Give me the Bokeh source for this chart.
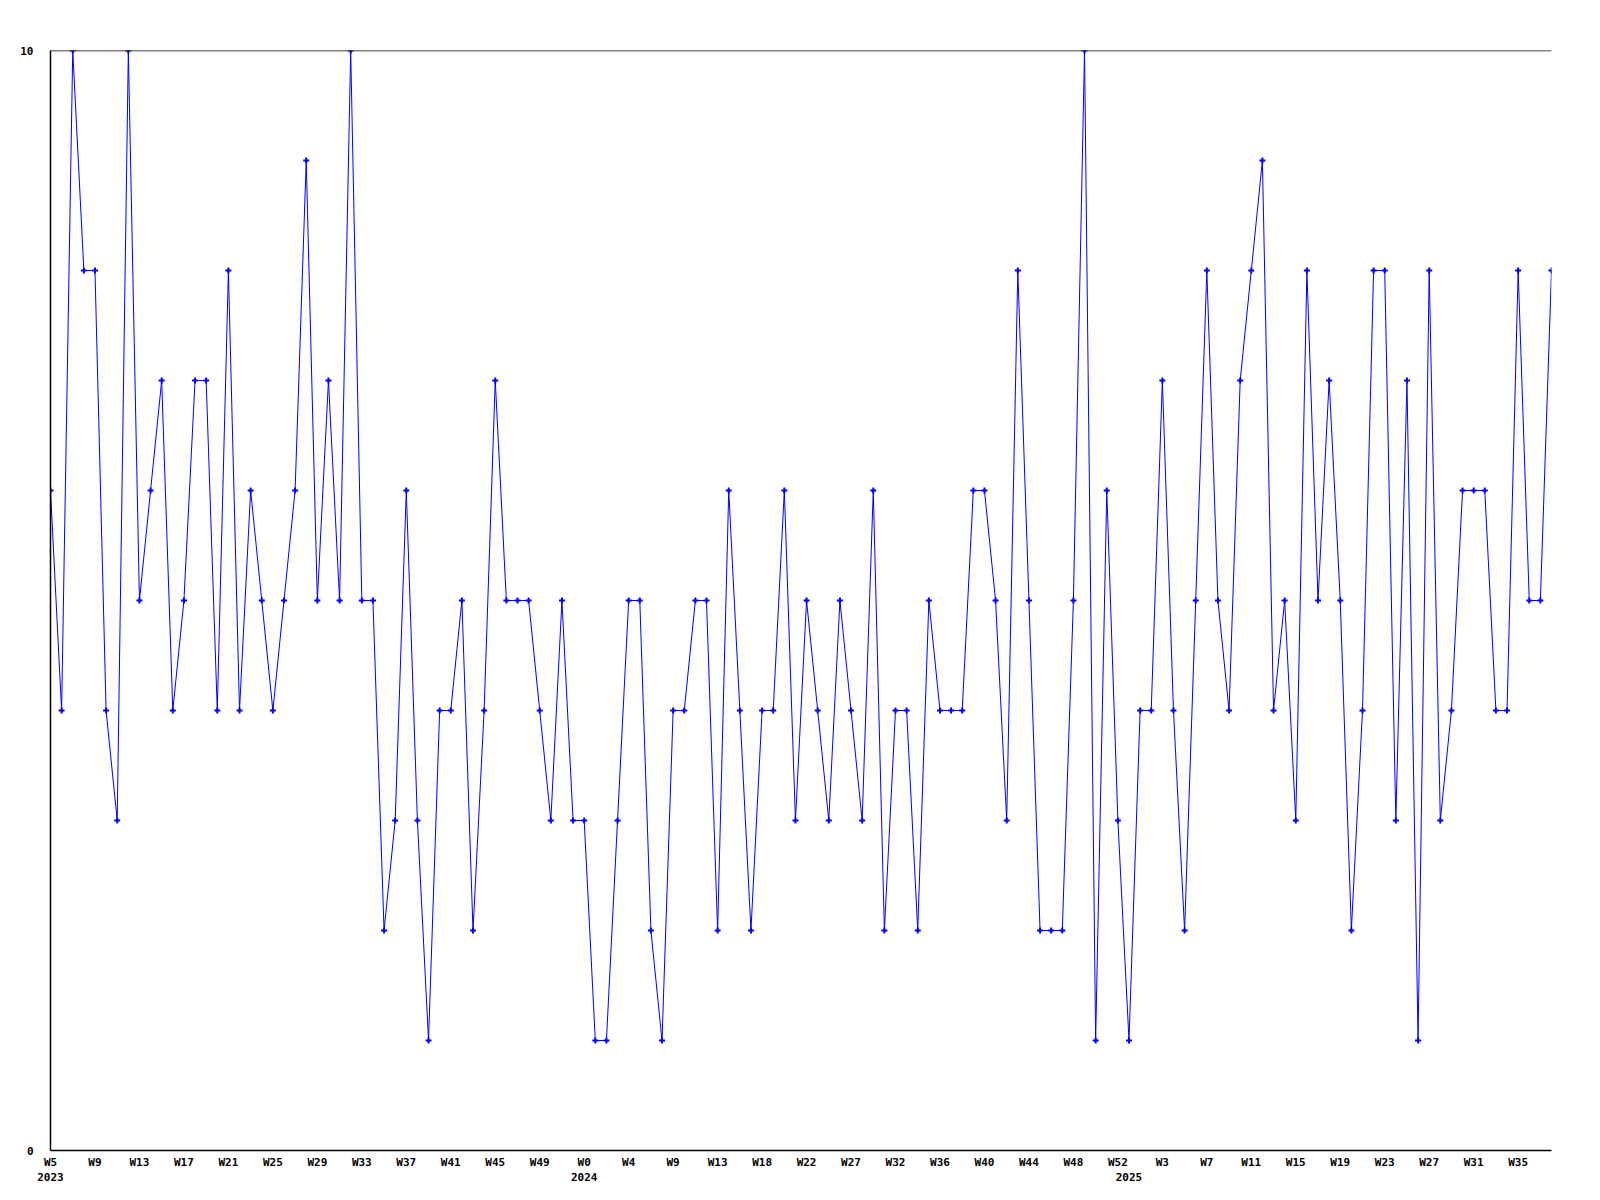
from bokeh.plotting import figure
from bokeh.models import Range1d, LinearAxis, FixedTicker, Span, ColumnDataSource
from bokeh.embed import file_html
from bokeh.resources import INLINE

# ---- data ----
values = [
    6, 4, 10, 8, 8, 4, 3, 10, 5, 6, 7, 4, 5, 7, 7, 4, 8, 4, 6, 5,
    4, 5, 6, 9, 5, 7, 5, 10, 5, 5, 2, 3, 6, 3, 1, 4, 4, 5, 2, 4,
    7, 5, 5, 5, 4, 3, 5, 3, 3, 1, 1, 3, 5, 5, 2, 1, 4, 4, 5, 5,
    2, 6, 4, 2, 4, 4, 6, 3, 5, 4, 3, 5, 4, 3, 6, 2, 4, 4, 2, 5,
    4, 4, 4, 6, 6, 5, 3, 8, 5, 2, 2, 2, 5, 10, 1, 6, 3, 1, 4, 4,
    7, 4, 2, 5, 8, 5, 4, 7, 8, 9, 4, 5, 3, 8, 5, 7, 5, 2, 4, 8,
    8, 3, 7, 1, 8, 3, 4, 6, 6, 6, 4, 4, 8, 5, 5, 8,
]
week_labels = [
    "W5", "W9", "W13", "W17", "W21", "W25", "W29", "W33", "W37", "W41",
    "W45", "W49", "W0", "W4", "W9", "W13", "W18", "W22", "W27", "W32",
    "W36", "W40", "W44", "W48", "W52", "W3", "W7", "W11", "W15", "W19",
    "W23", "W27", "W31", "W35",
]
week_label_step = 4
year_labels = ["2023", "2024", "2025"]
year_index = [0, 48, 97]
y_ticks = [0, 10]

x = list(range(len(values)))
week_ticks = [i * week_label_step for i in range(len(week_labels))]

FONT = "DejaVu Sans Mono"
FSIZE = "11px"

p = figure(
    frame_width=1501, frame_height=1100,
    x_range=Range1d(0, len(values) - 1), y_range=Range1d(0, 10),
    output_backend="svg", toolbar_location=None,
    x_axis_type=None, y_axis_type=None,
    min_border_left=50, min_border_top=50, min_border_right=33, min_border_bottom=5,
)
p.outline_line_color = None
p.background_fill_color = "white"
p.border_fill_color = "white"

src = ColumnDataSource(dict(x=x, y=values))
p.line("x", "y", source=src, line_color="#0000ff", line_width=1)
p.scatter("x", "y", source=src, marker="cross", size=6, line_width=2, line_color="#0000ff")


def style_axis(ax, standoff, line=True):
    ax.major_tick_line_color = None
    ax.minor_tick_line_color = None
    ax.major_tick_in = 0
    ax.major_tick_out = 0
    ax.major_label_standoff = standoff
    ax.axis_line_color = "black" if line else None
    ax.axis_line_width = 1.5
    ax.major_label_text_font = FONT
    ax.major_label_text_font_style = "bold"
    ax.major_label_text_font_size = FSIZE
    ax.major_label_text_color = "black"


# y axis
ya = LinearAxis(ticker=FixedTicker(ticks=y_ticks))
style_axis(ya, 17)
p.add_layout(ya, "left")

# week axis
xa = LinearAxis(ticker=FixedTicker(ticks=week_ticks))
xa.major_label_overrides = {t: l for t, l in zip(week_ticks, week_labels)}
style_axis(xa, 5)
p.add_layout(xa, "below")

# year axis
yr = LinearAxis(ticker=FixedTicker(ticks=year_index))
yr.major_label_overrides = {t: l for t, l in zip(year_index, year_labels)}
style_axis(yr, 1, line=False)
p.add_layout(yr, "below")

# top border line
p.add_layout(Span(location=10, dimension="width", line_color="black", line_width=1.5))

open("out.html", "w").write(file_html(p, INLINE))
